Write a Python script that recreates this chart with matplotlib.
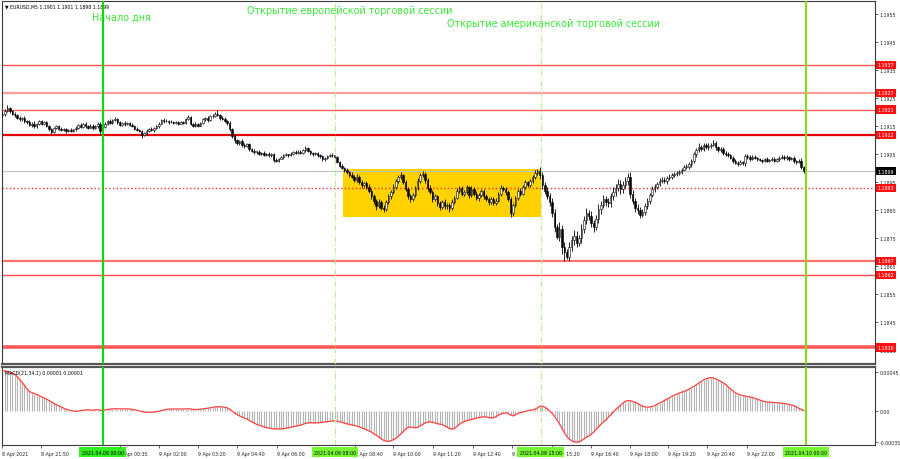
import matplotlib
matplotlib.use("Agg")
import matplotlib.pyplot as plt
import matplotlib.transforms as mtransforms
from matplotlib.patches import Rectangle
import numpy as np

# EURUSD M5, one value per bar from 8 Apr 20:35 to 9 Apr 23:55
# closes in pips above 1.1800
close_pips = [
    119.5, 120.5, 121.5, 120.5, 119.5, 119.0, 118.0, 117.5, 118.0, 116.8,
    116.5, 115.5, 116.0, 115.0, 115.8, 116.8, 116.0, 116.5, 115.2, 114.0,
    113.0, 114.5, 115.0, 114.2, 113.8, 114.0, 113.2, 113.8, 113.5, 113.9,
    114.5, 115.5, 114.8, 115.8, 115.0, 114.6, 115.2, 114.3, 115.0, 116.0,
    113.2, 114.8, 116.0, 116.8, 116.2, 117.2, 117.5, 116.5, 115.5, 116.3,
    115.8, 116.2, 115.6, 115.0, 114.2, 113.8, 113.4, 112.0, 112.5, 113.5,
    114.0, 113.6, 114.5, 115.0, 116.0, 117.3, 116.8, 117.0, 116.4, 116.6,
    116.2, 116.5, 116.0, 116.6, 116.2, 117.5, 118.2, 116.0, 115.2, 115.8,
    115.3, 116.2, 117.5, 118.0, 117.3, 118.6, 118.8, 119.5, 119.0, 118.0,
    117.8, 117.0, 116.2, 114.0, 111.5, 110.0, 109.0, 109.8, 108.5, 108.0,
    108.6, 107.0, 106.3, 105.8, 106.0, 105.2, 105.5, 104.8, 105.2, 104.6,
    105.0, 103.0, 102.8, 103.5, 104.0, 104.8, 105.0, 104.6, 105.2, 105.8,
    105.5, 106.0, 105.6, 106.5, 107.3, 106.2, 105.4, 105.0, 105.5, 104.8,
    104.3, 103.2, 103.8, 104.4, 104.8, 104.6, 104.0, 102.4, 101.0, 100.0,
    99.4, 98.6, 97.8, 97.0, 96.0, 97.0, 95.2, 94.0, 94.6, 93.5,
    92.0, 90.0, 88.2, 86.5, 88.0, 86.0, 85.5, 88.0, 90.0, 91.5,
    93.5, 95.5, 97.0, 97.5, 95.0, 92.8, 90.0, 89.0, 90.5, 93.0,
    95.5, 97.5, 98.0, 95.8, 93.0, 91.5, 89.0, 90.0, 87.5, 86.2,
    88.0, 86.5, 87.0, 86.0, 88.0, 89.5, 92.0, 93.0, 91.0, 91.5,
    93.2, 90.5, 92.8, 91.0, 89.5, 90.5, 91.8, 90.0, 89.0, 88.0,
    89.0, 87.8, 88.5, 91.0, 93.0, 92.5, 91.5, 89.0, 84.0, 87.0,
    89.5, 92.0, 91.0, 93.5, 95.0, 94.2, 95.5, 97.0, 98.5, 99.0,
    97.5, 94.0, 92.0, 90.0, 88.0, 84.0, 79.0, 75.5, 78.5, 72.0,
    70.0, 68.5, 72.0, 74.5, 76.0, 73.5, 75.0, 78.5, 81.5, 84.0,
    83.0, 80.5, 79.0, 82.0, 85.5, 87.0, 89.0, 88.0, 87.5, 90.0,
    91.5, 93.0, 94.5, 92.5, 94.0, 95.5, 97.0, 91.0, 88.5, 86.0,
    85.0, 83.5, 84.5, 86.5, 88.5, 90.5, 92.5, 93.5, 94.5, 95.5,
    96.0, 95.5, 96.5, 97.0, 97.5, 98.0, 98.3, 98.8, 99.5, 100.5,
    100.5, 101.5, 102.5, 105.0, 106.5, 107.8, 107.0, 108.2, 107.5, 108.0,
    108.5, 109.0, 107.5, 106.5, 106.8, 105.5, 105.0, 104.6, 103.8, 102.8,
    102.0, 101.6, 102.2, 101.8, 104.5, 104.0, 103.5, 104.2, 103.6, 103.2,
    103.0, 102.6, 103.2, 102.8, 103.0, 103.5, 102.8, 103.2, 103.8, 104.2,
    103.6, 104.0, 103.3, 103.6, 102.5, 102.2, 102.8, 100.5, 99.0,
]
first_open_pips = 119.0

# upper / lower shadows in pips
up_wick = [
    0.8, 0.6, 1.0, 0.4, 0.5, 0.7, 0.3, 0.8, 0.5, 0.6,
    0.4, 0.7, 0.5, 0.8, 0.4, 0.6, 0.5, 0.3, 0.6, 0.4,
    0.5, 0.3, 0.6, 0.4, 0.7, 0.3, 0.5, 0.4, 0.6, 0.3,
    0.5, 0.4, 0.7, 0.3, 0.6, 0.4, 0.5, 0.8, 0.4, 0.6,
    0.5, 0.7, 0.4, 0.6, 0.8, 0.5, 0.7, 0.4, 0.6, 0.3,
    0.5, 0.4, 0.3, 0.6, 0.4, 0.5, 0.3, 0.4, 0.6, 0.5,
    0.4, 0.7, 0.3, 0.5, 0.6, 0.4, 0.7, 0.5, 0.3, 0.6,
    0.4, 0.5, 0.6, 0.3, 0.5, 0.4, 0.8, 0.5, 0.3, 0.6,
    0.5, 0.4, 0.6, 0.5, 0.7, 0.4, 0.6, 0.5, 1.3, 0.4,
    0.6, 0.5, 0.4, 0.7, 0.5, 0.8, 0.6, 0.5, 0.7, 0.4,
    0.6, 0.5, 0.4, 0.6, 0.3, 0.5, 0.4, 0.6, 0.3, 0.5,
    0.4, 0.5, 0.6, 0.3, 0.5, 0.4, 0.6, 0.3, 0.5, 0.4,
    0.6, 0.4, 0.5, 0.3, 0.7, 0.5, 0.4, 0.6, 0.3, 0.5,
    0.4, 0.6, 0.3, 0.5, 0.4, 0.6, 0.3, 0.5, 0.4, 0.6,
    0.5, 0.8, 0.6, 0.9, 0.7, 1.0, 0.6, 0.8, 0.7, 0.9,
    0.8, 0.6, 1.0, 0.7, 0.9, 0.6, 0.8, 0.7, 1.0, 0.6,
    0.9, 0.7, 0.8, 1.3, 0.6, 0.9, 0.7, 1.0, 0.8, 0.6,
    0.9, 0.7, 1.2, 0.8, 0.6, 0.9, 0.7, 1.0, 0.6, 0.8,
    0.7, 0.9, 0.6, 0.8, 1.0, 0.7, 0.9, 0.6, 0.8, 0.7,
    0.9, 0.6, 0.8, 0.7, 1.0, 0.6, 0.8, 0.7, 0.9, 0.6,
    0.8, 0.7, 0.9, 0.6, 1.0, 0.7, 0.8, 0.6, 0.9, 0.7,
    0.8, 0.6, 0.9, 0.7, 1.0, 0.6, 0.8, 0.7, 0.9, 0.9,
    1.5, 1.2, 1.0, 1.4, 1.1, 1.3, 1.5, 1.2, 2.5, 1.4,
    1.8, 1.2, 1.6, 1.3, 1.9, 1.5, 1.2, 1.7, 1.4, 1.8,
    1.3, 1.6, 1.2, 1.5, 1.9, 1.4, 1.6, 1.2, 1.5, 1.3,
    1.7, 1.4, 1.8, 1.2, 1.5, 1.3, 1.4, 1.6, 1.2, 1.0,
    1.3, 1.1, 0.9, 1.2, 1.0, 0.8, 1.1, 0.9, 0.7, 1.0,
    0.8, 0.9, 0.7, 1.0, 0.8, 0.6, 0.9, 0.7, 0.8, 0.6,
    0.9, 0.7, 0.8, 1.0, 0.8, 1.2, 0.7, 1.0, 0.8, 0.9,
    0.7, 1.1, 0.8, 0.6, 0.9, 0.7, 0.6, 0.8, 0.5, 0.7,
    0.6, 0.5, 0.7, 0.6, 0.8, 0.5, 0.6, 0.4, 0.7, 0.5,
    0.6, 0.4, 0.5, 0.7, 0.4, 0.6, 0.5, 0.4, 0.6, 0.5,
    0.4, 0.6, 0.5, 0.4, 0.7, 0.5, 0.6, 0.8, 0.4,
]
dn_wick = [
    0.5, 0.7, 0.4, 0.6, 0.5, 0.8, 0.4, 0.6, 0.5, 0.7,
    0.5, 0.4, 0.6, 0.5, 0.7, 0.4, 0.6, 0.5, 0.4, 0.6,
    0.7, 0.5, 0.4, 0.6, 0.5, 0.4, 0.6, 0.3, 0.5, 0.4,
    0.6, 0.3, 0.5, 0.4, 0.6, 0.5, 0.3, 0.6, 0.4, 0.5,
    1.0, 0.5, 0.4, 0.6, 0.3, 0.5, 0.4, 0.6, 0.5, 0.3,
    0.6, 0.4, 0.5, 0.3, 0.6, 0.4, 0.5, 1.2, 0.4, 0.6,
    0.5, 0.3, 0.6, 0.4, 0.5, 0.3, 0.6, 0.4, 0.5, 0.3,
    0.5, 0.4, 0.6, 0.3, 0.5, 0.4, 0.3, 0.6, 0.5, 0.4,
    0.6, 0.3, 0.5, 0.4, 0.6, 0.3, 0.5, 0.4, 0.3, 0.6,
    0.4, 0.5, 0.6, 0.8, 0.7, 0.9, 0.6, 0.5, 0.7, 0.6,
    0.5, 0.7, 0.4, 0.6, 0.5, 0.4, 0.6, 0.5, 0.3, 0.6,
    0.5, 0.7, 0.4, 0.5, 0.3, 0.6, 0.4, 0.5, 0.3, 0.6,
    0.4, 0.5, 0.6, 0.3, 0.5, 0.4, 0.6, 0.5, 0.3, 0.6,
    0.5, 0.7, 0.4, 0.5, 0.3, 0.6, 0.4, 0.6, 0.5, 0.4,
    0.6, 0.5, 0.8, 0.6, 0.9, 0.7, 0.8, 1.0, 0.6, 0.9,
    0.7, 1.0, 0.8, 1.2, 0.7, 0.9, 1.1, 0.8, 0.6, 0.9,
    0.7, 0.8, 0.6, 0.9, 0.7, 1.0, 0.8, 1.1, 0.7, 0.9,
    0.6, 0.8, 0.7, 0.9, 1.0, 0.8, 1.1, 0.7, 0.9, 1.0,
    0.8, 0.9, 1.0, 1.5, 0.7, 0.9, 0.6, 0.8, 1.0, 0.7,
    0.8, 1.0, 0.7, 0.9, 0.8, 1.0, 0.6, 0.9, 0.8, 1.0,
    0.7, 0.9, 0.8, 0.6, 0.9, 0.7, 1.0, 0.8, 1.4, 0.9,
    0.7, 0.8, 1.0, 0.6, 0.9, 0.7, 0.8, 0.6, 0.9, 0.7,
    1.2, 1.5, 1.3, 1.1, 1.6, 1.4, 1.8, 0.8, 1.5, 2.5,
    3.0, 1.0, 1.7, 1.4, 2.0, 1.6, 1.3, 1.8, 1.5, 1.2,
    1.6, 1.3, 1.8, 1.2, 1.5, 1.7, 1.3, 1.6, 1.2, 1.4,
    1.3, 1.5, 1.2, 1.6, 1.3, 1.1, 1.4, 1.7, 1.3, 1.5,
    1.2, 1.4, 1.0, 1.3, 0.9, 1.1, 0.8, 1.0, 0.9, 0.7,
    0.9, 0.8, 1.0, 0.7, 0.9, 0.6, 0.8, 0.7, 0.9, 0.6,
    0.8, 0.7, 0.9, 0.6, 1.0, 0.8, 0.7, 0.9, 0.6, 0.8,
    0.7, 0.6, 0.9, 0.7, 0.5, 0.8, 0.6, 0.7, 0.5, 0.8,
    0.6, 0.7, 0.5, 0.6, 0.8, 0.5, 0.7, 0.6, 0.4, 0.6,
    0.5, 0.7, 0.4, 0.6, 0.5, 0.4, 0.7, 0.5, 0.6, 0.4,
    0.6, 0.5, 0.7, 0.4, 0.6, 0.5, 0.4, 0.6, 0.8,
]

# MACD(21,34,1) main = signal, in units of 0.00001
macd_e5 = [
    47, 46.5, 46, 45, 44, 43, 40, 37, 33.5, 30,
    26, 23, 21.5, 20.5, 19.5, 18, 16.5, 15.5, 14, 12.5,
    11, 9, 7.5, 6.5, 5, 3.5, 2.5, 1.5, 0.8, 0.2,
    0, 0.3, 0.8, 1.2, 1.5, 1.8, 1.5, 1.2, 1.5, 2.0,
    1.2, 0.8, 1.5, 2.2, 2.5, 2.8, 3.0, 3.0, 2.8, 2.8,
    2.7, 2.8, 2.6, 2.2, 1.8, 1.2, 0.5, -0.3, -0.8, -1.2,
    -1.0, -1.2, -0.8, -0.5, 0.0, 0.8, 1.5, 2.0, 2.5, 2.6,
    2.7, 2.7, 2.6, 2.7, 2.6, 2.8, 3.0, 2.6, 2.2, 2.2,
    2.0, 2.3, 2.8, 3.2, 3.5, 4.0, 4.5, 5.0, 5.2, 5.3,
    5.0, 4.6, 4.0, 2.5, 0.2, -2.0, -3.8, -5.2, -6.5, -7.8,
    -8.8, -10.5, -12, -13.5, -15, -16, -17, -18, -18.8, -19.3,
    -19.8, -20.2, -20.4, -20.4, -20.2, -20, -19.6, -19, -18.5, -17.8,
    -17.2, -16.6, -16, -15, -14, -13.5, -13.2, -13.3, -13.4, -13.2,
    -13.0, -12.6, -12.2, -11.8, -11.5, -11.3, -11.2, -11.5, -12, -12.8,
    -13.6, -14.5, -15.2, -15.8, -16.3, -17, -18, -19, -20.2, -21.5,
    -22.6, -24, -25.8, -27.5, -29.5, -31.5, -33.5, -34.5, -34.8, -34,
    -32.8, -31.2, -29, -26.5, -23.5, -20.5, -18.5, -18, -18.6, -19.2,
    -18.5, -16.8, -15, -13.5, -12.6, -12.3, -12.6, -13.4, -14.2, -14.8,
    -15.2, -16.8, -18.5, -20.0, -20.6, -19.8, -17.5, -15.2, -13.2, -11.8,
    -11.0, -10.2, -9.5, -8.6, -8.0, -7.2, -6.6, -6.4, -6.6, -7.2,
    -7.6, -7.4, -6.2, -4.5, -3.2, -2.2, -1.8, -2.5, -4.2, -5.2,
    -4.0, -2.5, -1.5, -0.8, -0.2, 0.5, 1.2, 1.6, 2.5, 4.0,
    5.8, 6.0, 4.8, 3.0, 0.5, -2.5, -6.0, -10.0, -14.5, -19.5,
    -24.5, -29, -32, -34, -35.2, -35.6, -35.4, -34, -32, -30,
    -28.5, -26.5, -24, -21, -18, -15, -12.5, -10, -7, -4,
    -1, 2, 4.5, 7, 9.5, 11.5, 12.3, 12.0, 11.5, 10.5,
    9.0, 7.5, 6.0, 5.0, 4.8, 5.0, 5.5, 6.5, 8.0, 9.5,
    11.0, 12.5, 14.0, 15.5, 17.0, 18.5, 19.8, 21.0, 22.0, 23.0,
    24.0, 25.5, 27.0, 28.5, 30.5, 32.5, 34.5, 36.0, 37.5, 38.5,
    38.8, 38.5, 37.5, 36.0, 34.5, 33.0, 31.0, 28.5, 26.0, 23.5,
    21.5, 20.0, 19.0, 18.2, 17.5, 17.0, 16.6, 16.0, 15.0, 14.0,
    13.0, 12.0, 11.2, 10.8, 10.5, 10.2, 10.0, 9.8, 9.6, 9.4,
    9.0, 8.5, 8.0, 7.2, 6.5, 5.0, 3.5, 2.2, 1.0,
]

levels = [1.1937, 1.1927, 1.1921, 1.1912, 1.1893, 1.1867, 1.1862, 1.1836]
level_colors = ['#ff5050', '#ff9c9c', '#ff5a5a', '#e60000', '#ff3030', '#ff7070', '#ff4a4a', '#ff5a5a']
level_widths = [1.0, 1.6, 1.0, 1.6, 1.0, 1.6, 1.0, 2.6]
level_styles = ['-', '-', '-', '-', ':', '-', '-', '-']
last_price = 1.1899

range_box = (139.5, 220.3, 1.18826, 1.18997)   # bar from, bar to, low, high

# vertical markers: bar index, label
day_start = (41, "2021.04.09 00:00")
day_end = (329, "2021.04.10 00:00")
sessions = [(136.2, "2021.04.09 08:00"), (220.3, "2021.04.09 15:00")]

xtick_bars = [0, 15.8, 48.3, 64, 80.2, 96.2, 112.4, 144.4, 160,
              176.2, 192.5, 208.5, 224.8, 240.8, 256.7, 272.3, 288.6, 305]
xtick_text = ["8 Apr 2021", "8 Apr 21:50", "9 Apr 00:35", "9 Apr 02:00",
              "9 Apr 03:20", "9 Apr 04:40", "9 Apr 06:00", "9 Apr 08:40",
              "9 Apr 10:00", "9 Apr 11:20", "9 Apr 12:40", "9 Apr 14:00", "9 Apr 15:20",
              "9 Apr 16:40", "9 Apr 18:00", "9 Apr 19:20", "9 Apr 20:40", "9 Apr 22:00"]
price_ticks = [1.1955, 1.1945, 1.1935, 1.1925, 1.1915, 1.1905, 1.1895,
               1.1885, 1.1875, 1.1865, 1.1855, 1.1845, 1.1835]

n = min(len(close_pips), len(up_wick), len(dn_wick), len(macd_e5))
x = np.arange(n)
close = 1.18 + np.array(close_pips[:n]) / 10000
opn = np.r_[1.18 + first_open_pips / 10000, close[:-1]]
high = np.maximum(opn, close) + np.array(up_wick[:n]) / 10000
low = np.minimum(opn, close) - np.array(dn_wick[:n]) / 10000
macd = np.array(macd_e5[:n])

W, H = 900, 460
fig = plt.figure(figsize=(9, 4.6), dpi=100)
ax = fig.add_axes([2 / W, 1 - 365 / H, 873 / W, 363 / H])
ax2 = fig.add_axes([2 / W, 1 - 446 / H, 873 / W, 78 / H])

XLIM = (-0.2, 357.2)
FS = 3.4
green_txt = '#3ce63c'

# ---- price panel
ax.set_xlim(*XLIM)
ax.set_ylim(1.18301, 1.19598)

b0, b1, blo, bhi = range_box
ax.add_patch(Rectangle((b0, blo), b1 - b0, bhi - blo, fc='#ffd200', ec='none', zorder=1))

for lv, c, lw, ls in zip(levels, level_colors, level_widths, level_styles):
    ax.axhline(lv, color=c, lw=lw, ls=ls, zorder=2)
ax.axhline(last_price, color='#c0c0c0', lw=0.8, zorder=1.5)

bull = close >= opn
body = np.maximum(np.abs(close - opn), 0.000025)
ax.vlines(x, low, high, color='black', lw=0.6, zorder=3)
ax.bar(x[bull], body[bull], bottom=opn[bull], width=0.62, color='white',
       edgecolor='black', linewidth=0.4, zorder=4)
ax.bar(x[~bull], body[~bull], bottom=close[~bull], width=0.62, color='black',
       edgecolor='black', linewidth=0.4, zorder=4)

ax.yaxis.tick_right()
ax.set_yticks(price_ticks)
ax.set_yticklabels([f"{p:.4f}" for p in price_ticks])
ax.tick_params(axis='y', length=2, width=0.5, labelsize=FS, pad=1.2, colors='#222222')
ax.set_xticks([])

ytrans = mtransforms.blended_transform_factory(ax.transAxes, ax.transData)
for lv in levels:
    ax.text(1.003, lv, f"{lv:.4f}", transform=ytrans, fontsize=FS, color='white',
            ha='left', va='center', clip_on=False, zorder=10,
            bbox=dict(boxstyle='square,pad=0.35', fc='#ff1010', ec='none'))
ax.text(1.003, last_price, f"{last_price:.4f}", transform=ytrans, fontsize=FS, color='white',
        ha='left', va='center', clip_on=False, zorder=10,
        bbox=dict(boxstyle='square,pad=0.35', fc='black', ec='none'))

ax.text(0.004, 0.993, "\u25bc EURUSD,M5 1.1901 1.1901 1.1898 1.1899", transform=ax.transAxes,
        fontsize=3.3, ha='left', va='top', color='black')

ann_fs = 6.9
ax.text(0.1031, 0.957, "Начало дня", transform=ax.transAxes, fontsize=ann_fs,
        color=green_txt, ha='left', va='center')
ax.text(0.2806, 0.975, "Открытие европейской торговой сессии", transform=ax.transAxes,
        fontsize=ann_fs, color=green_txt, ha='left', va='center')
ax.text(0.5097, 0.939, "Открытие американской торговой сессии", transform=ax.transAxes,
        fontsize=ann_fs, color=green_txt, ha='left', va='center')

# ---- MACD panel
ax2.set_xlim(*XLIM)
ax2.set_ylim(-38.9, 51.1)
ax2.vlines(x, 0, macd, color='#b4b4b4', lw=0.8, zorder=2)
ax2.plot(x, macd, color='#ff4040', lw=0.9, zorder=3)
ax2.text(0.004, 0.93, "MACD(21,34,1) 0.00001 0.00001", transform=ax2.transAxes,
         fontsize=FS, ha='left', va='center', color='black')

ax2.yaxis.tick_right()
ax2.set_yticks([45, 0, -35])
ax2.set_yticklabels(["0.00045", "0.00", "-0.00035"])
ax2.tick_params(axis='y', length=2, width=0.5, labelsize=FS, pad=1.2, colors='#222222')
ax2.set_xticks(xtick_bars)
ax2.set_xticklabels(xtick_text, ha='left')
ax2.tick_params(axis='x', length=2, width=0.5, labelsize=FS, pad=2, colors='#222222')

# ---- vertical markers on both panels
for a in (ax, ax2):
    a.axvline(day_start[0], color='#00dd00', lw=1.4, zorder=5)
    a.axvline(day_end[0], color='#80e000', lw=1.4, zorder=5)
    for sx, _ in sessions:
        a.axvline(sx, color='#b8f090', lw=0.8, ls=(0, (5, 2, 1, 2)), zorder=5)

xtrans = mtransforms.blended_transform_factory(ax2.transData, ax2.transAxes)
for bx, lab, fc in [(day_start[0], day_start[1], '#33ee22'),
                    (sessions[0][0], sessions[0][1], '#77f733'),
                    (sessions[1][0], sessions[1][1], '#77f733'),
                    (day_end[0], day_end[1], '#77f733')]:
    ax2.text(bx, -0.09, lab, transform=xtrans, fontsize=FS, color='black',
             ha='center', va='center', clip_on=False, zorder=10,
             bbox=dict(boxstyle='square,pad=0.45', fc=fc, ec='none'))

for a in (ax, ax2):
    for s in a.spines.values():
        s.set_color('#3a3a3a')
        s.set_linewidth(0.8)
ax.spines['bottom'].set_linewidth(1.6)
ax.spines['bottom'].set_color('#555555')
ax2.spines['top'].set_linewidth(1.6)
ax2.spines['top'].set_color('#555555')

fig.savefig("out.png", dpi=100, facecolor='white')
